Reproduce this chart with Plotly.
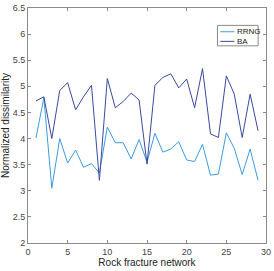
import plotly.graph_objects as go

x_vals = list(range(1, 30))
rrng = [4.01, 4.78, 3.05, 4.00, 3.53, 3.78, 3.45, 3.52, 3.34, 4.22,
        3.92, 3.92, 3.61, 3.98, 3.55, 4.10, 3.74, 3.80, 3.94, 3.59,
        3.56, 3.89, 3.30, 3.32, 4.11, 3.81, 3.31, 3.80, 3.20]
ba = [4.72, 4.80, 4.00, 4.92, 5.07, 4.55, 4.80, 5.02, 3.20, 5.15,
      4.59, 4.71, 4.87, 4.74, 3.51, 5.02, 5.17, 5.24, 4.97, 5.14,
      4.59, 5.34, 4.09, 4.02, 5.20, 4.85, 4.02, 4.85, 4.15]
x_ticks = [0, 5, 10, 15, 20, 25, 30]
y_ticks = [2, 2.5, 3, 3.5, 4, 4.5, 5, 5.5, 6, 6.5]
series_names = ["RRNG", "BA"]
series_colors = ["#3d9ce0", "#3a4aa0"]

fig = go.Figure()
for name, vals, col in zip(series_names, [rrng, ba], series_colors):
    fig.add_trace(go.Scatter(x=x_vals, y=vals, mode="lines", name=name,
                             line=dict(color=col, width=1), showlegend=False))

# compact MATLAB-style legend box
fig.add_shape(type="rect", xref="paper", yref="paper", x0=0.796, x1=0.967,
              y0=0.839, y1=0.926, line=dict(color="#8a8a8a", width=1), fillcolor="white")
leg_y = [0.899, 0.858]
for name, col, ly in zip(series_names, series_colors, leg_y):
    fig.add_shape(type="line", xref="paper", yref="paper", x0=0.808, x1=0.867,
                  y0=ly, y1=ly, line=dict(color=col, width=1))
    fig.add_annotation(xref="paper", yref="paper", x=0.869, y=ly, text=name,
                       showarrow=False, xanchor="left", yanchor="middle",
                       font=dict(family="Liberation Sans, Arial", size=8, color="#222"))

axis_common = dict(showgrid=False, zeroline=False, showline=True, linecolor="#8a8a8a",
                   linewidth=1, mirror="ticks", ticks="inside", ticklen=3,
                   ticklabeloverflow="allow",
                   tickcolor="#8a8a8a", tickfont=dict(family="Liberation Sans, Arial", size=9, color="#444"))
fig.update_layout(
    width=274, height=271,
    margin=dict(l=28, r=6, t=3, b=28),
    paper_bgcolor="white", plot_bgcolor="white",
    showlegend=False,
    xaxis=dict(range=[0, 30], tickvals=x_ticks, **axis_common,
               title=dict(text="Rock fracture network", standoff=2,
                          font=dict(family="Liberation Sans, Arial", size=10, color="#222"))),
    yaxis=dict(range=[2, 6.5], tickvals=y_ticks, **axis_common,
               title=dict(text="Normalized dissimilarity", standoff=2,
                          font=dict(family="Liberation Sans, Arial", size=10, color="#222"))),
)
fig.write_html("out.html", config={"displayModeBar": False},
               post_script="document.body.style.margin='0';document.body.style.overflow='hidden';")
